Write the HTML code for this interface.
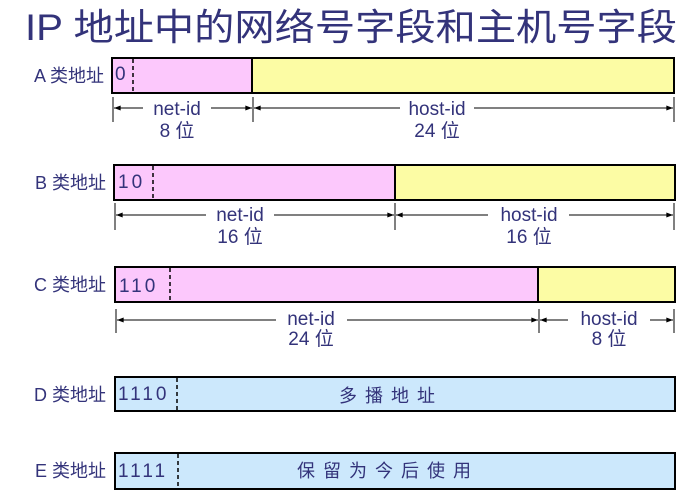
<!DOCTYPE html>
<html><head><meta charset="utf-8"><style>
html,body{margin:0;padding:0;background:#fff;width:686px;height:500px;overflow:hidden}
text{font-family:"Liberation Sans","Noto Sans CJK SC",sans-serif;fill:#33337a}
</style></head><body>
<svg width="686" height="500" viewBox="0 0 686 500" xmlns="http://www.w3.org/2000/svg">
<defs>
<marker id="ar" viewBox="0 0 8 6" refX="8" refY="3" markerWidth="7" markerHeight="5" orient="auto-start-reverse" markerUnits="userSpaceOnUse"><path d="M0,0 L8,3 L0,6 z" fill="#000"/></marker>
</defs>
<text x="25" y="40" font-size="37" textLength="652" lengthAdjust="spacingAndGlyphs">IP 地址中的网络号字段和主机号字段</text>

<g font-size="18">
<text x="104" y="82" text-anchor="end">A 类地址</text>
<text x="106" y="189" text-anchor="end">B 类地址</text>
<text x="106" y="291" text-anchor="end">C 类地址</text>
<text x="106" y="401" text-anchor="end">D 类地址</text>
<text x="106" y="477" text-anchor="end">E 类地址</text>
</g>

<!-- A -->
<rect x="112" y="58" width="140" height="35" fill="#fcc8fc"/>
<rect x="252" y="58" width="422" height="35" fill="#fcfca4"/>
<rect x="112" y="58" width="562" height="35" fill="none" stroke="#000" stroke-width="2"/>
<line x1="252" y1="58" x2="252" y2="93" stroke="#000" stroke-width="2"/>
<line x1="133" y1="59" x2="133" y2="92" stroke="#000" stroke-width="1.5" stroke-dasharray="4,3"/>
<text x="115" y="80" font-size="19">0</text>
<g stroke="#000" stroke-width="1">
<line x1="113" y1="97" x2="113" y2="122"/><line x1="253" y1="97" x2="253" y2="122"/><line x1="674" y1="97" x2="674" y2="122"/>
<line x1="114" y1="108" x2="143" y2="108" marker-start="url(#ar)"/><line x1="211" y1="108" x2="252" y2="108" marker-end="url(#ar)"/>
<line x1="254" y1="108" x2="400" y2="108" marker-start="url(#ar)"/><line x1="474" y1="108" x2="673" y2="108" marker-end="url(#ar)"/>
</g>
<g font-size="19" text-anchor="middle">
<text x="177" y="115">net-id</text><text x="177" y="137">8 位</text>
<text x="437" y="115">host-id</text><text x="437" y="137">24 位</text>
</g>

<!-- B -->
<rect x="114" y="165" width="281" height="35" fill="#fcc8fc"/>
<rect x="395" y="165" width="280" height="35" fill="#fcfca4"/>
<rect x="114" y="165" width="561" height="35" fill="none" stroke="#000" stroke-width="2"/>
<line x1="395" y1="165" x2="395" y2="200" stroke="#000" stroke-width="2"/>
<line x1="153" y1="166" x2="153" y2="199" stroke="#000" stroke-width="1.5" stroke-dasharray="4,3"/>
<text x="118" y="188" font-size="19" letter-spacing="3">10</text>
<g stroke="#000" stroke-width="1">
<line x1="115" y1="203" x2="115" y2="230"/><line x1="395" y1="203" x2="395" y2="230"/><line x1="674" y1="203" x2="674" y2="230"/>
<line x1="116" y1="215" x2="206" y2="215" marker-start="url(#ar)"/><line x1="274" y1="215" x2="394" y2="215" marker-end="url(#ar)"/>
<line x1="396" y1="215" x2="488" y2="215" marker-start="url(#ar)"/><line x1="569" y1="215" x2="673" y2="215" marker-end="url(#ar)"/>
</g>
<g font-size="19" text-anchor="middle">
<text x="240" y="221">net-id</text><text x="240" y="243">16 位</text>
<text x="529" y="221">host-id</text><text x="529" y="243">16 位</text>
</g>

<!-- C -->
<rect x="115" y="267" width="423" height="35" fill="#fcc8fc"/>
<rect x="538" y="267" width="137" height="35" fill="#fcfca4"/>
<rect x="115" y="267" width="560" height="35" fill="none" stroke="#000" stroke-width="2"/>
<line x1="538" y1="267" x2="538" y2="302" stroke="#000" stroke-width="2"/>
<line x1="170" y1="268" x2="170" y2="301" stroke="#000" stroke-width="1.5" stroke-dasharray="4,3"/>
<text x="119" y="292" font-size="19" letter-spacing="3">110</text>
<g stroke="#000" stroke-width="1">
<line x1="116" y1="309" x2="116" y2="333"/><line x1="539" y1="309" x2="539" y2="333"/><line x1="674" y1="309" x2="674" y2="333"/>
<line x1="117" y1="320" x2="276" y2="320" marker-start="url(#ar)"/><line x1="347" y1="320" x2="538" y2="320" marker-end="url(#ar)"/>
<line x1="540" y1="320" x2="568" y2="320" marker-start="url(#ar)"/><line x1="650" y1="320" x2="673" y2="320" marker-end="url(#ar)"/>
</g>
<g font-size="19" text-anchor="middle">
<text x="311" y="325">net-id</text><text x="311" y="345">24 位</text>
<text x="609" y="325">host-id</text><text x="609" y="345">8 位</text>
</g>

<!-- D -->
<rect x="115" y="377" width="560" height="34" fill="#cce8fc" stroke="#000" stroke-width="2"/>
<line x1="177" y1="378" x2="177" y2="410" stroke="#000" stroke-width="1.5" stroke-dasharray="4,3"/>
<text x="118" y="400" font-size="19" letter-spacing="3">1110</text>
<text x="391" y="402" font-size="18" text-anchor="middle" letter-spacing="8">多播地址</text>

<!-- E -->
<rect x="115" y="453" width="560" height="36" fill="#cce8fc" stroke="#000" stroke-width="2"/>
<line x1="178" y1="454" x2="178" y2="488" stroke="#000" stroke-width="1.5" stroke-dasharray="4,3"/>
<text x="118" y="477" font-size="19" letter-spacing="3">1111</text>
<text x="388" y="477" font-size="18" text-anchor="middle" letter-spacing="8">保留为今后使用</text>
</svg>
</body></html>
